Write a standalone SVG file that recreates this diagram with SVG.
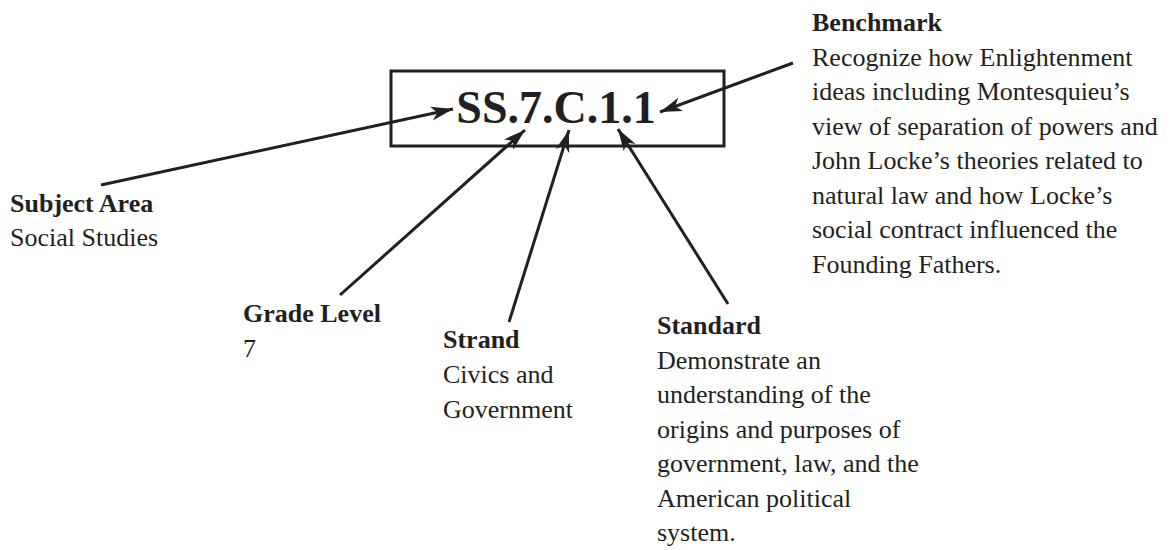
<svg xmlns="http://www.w3.org/2000/svg" width="1170" height="550" viewBox="0 0 1170 550">
<style>
text{font-family:"Liberation Serif","Times New Roman",serif;fill:#231f20;font-size:26px}
.b{font-weight:bold}
.code{font-weight:bold;font-size:46px}
.edge{stroke:#231f20;stroke-width:3;fill:none;marker-end:url(#ah)}
</style>
<defs>
<marker id="ah" markerUnits="userSpaceOnUse" markerWidth="24" markerHeight="16" refX="22" refY="8" orient="auto">
<path d="M0,1 L22,8 L0,15 L6,8 z" fill="#231f20"/>
</marker>
</defs>
<rect width="1170" height="550" fill="#fff"/>
<g id="code">
<rect x="391" y="71" width="333" height="75" fill="none" stroke="#231f20" stroke-width="3"/>
<text class="code" x="556" y="123" text-anchor="middle">SS.7.C.1.1</text>
</g>
<g id="connectors">
<line class="edge" x1="101" y1="185" x2="453" y2="109"/>
<line class="edge" x1="793" y1="63" x2="660" y2="112"/>
<line class="edge" x1="340" y1="295" x2="525" y2="130"/>
<line class="edge" x1="509" y1="322" x2="569" y2="130"/>
<line class="edge" x1="728" y1="304" x2="618" y2="129"/>
</g>
<g id="subject">
<text x="10" y="212" class="b">Subject Area</text>
<text x="10" y="246">Social Studies</text>
</g>
<g id="grade">
<text x="243" y="322" class="b">Grade Level</text>
<text x="243" y="357">7</text>
</g>
<g id="strand">
<text x="443" y="348" class="b">Strand</text>
<text x="443" y="383">Civics and</text>
<text x="443" y="418">Government</text>
</g>
<g id="standard">
<text x="657" y="334" class="b">Standard</text>
<text x="657" y="368.5">Demonstrate an</text>
<text x="657" y="403">understanding of the</text>
<text x="657" y="437.5">origins and purposes of</text>
<text x="657" y="472">government, law, and the</text>
<text x="657" y="506.5">American political</text>
<text x="657" y="541">system.</text>
</g>
<g id="benchmark">
<text x="812" y="31" class="b">Benchmark</text>
<text x="812" y="65.5">Recognize how Enlightenment</text>
<text x="812" y="100">ideas including Montesquieu’s</text>
<text x="812" y="134.5">view of separation of powers and</text>
<text x="812" y="169">John Locke’s theories related to</text>
<text x="812" y="203.5">natural law and how Locke’s</text>
<text x="812" y="238">social contract influenced the</text>
<text x="812" y="272.5">Founding Fathers.</text>
</g>
</svg>
